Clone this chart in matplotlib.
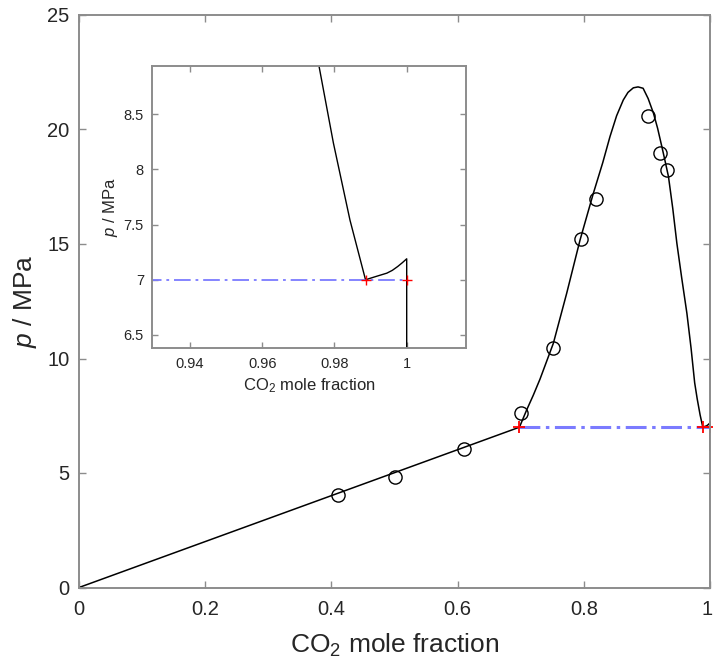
import matplotlib
matplotlib.use("Agg")
import matplotlib.pyplot as plt
import matplotlib.transforms as mtransforms
from matplotlib.ticker import FuncFormatter, FixedLocator

plt.rcParams['font.family'] = ['Liberation Sans', 'DejaVu Sans']
plt.rcParams['mathtext.fontset'] = 'custom'
plt.rcParams['mathtext.rm'] = 'Liberation Sans'
plt.rcParams['mathtext.it'] = 'Liberation Sans:italic'
plt.rcParams['lines.scale_dashes'] = False

# ---- data ----
line_x = [0.0, 0.698]
line_p = [0.0, 7.0]

env_x = [0.698, 0.7094, 0.720, 0.7306, 0.7517, 0.7729, 0.794, 0.8151, 0.830,
         0.8415, 0.852, 0.8626, 0.870, 0.8785, 0.886, 0.894, 0.902, 0.9104,
         0.917, 0.9237, 0.929, 0.9342, 0.941, 0.9475, 0.955, 0.9634, 0.970,
         0.9757, 0.9797, 0.9843, 0.9886]
env_p = [7.0, 7.75, 8.40, 9.10, 10.66, 12.85, 15.17, 17.21, 18.55,
         19.69, 20.60, 21.29, 21.62, 21.82, 21.86, 21.80, 21.35, 20.71,
         20.05, 19.25, 18.60, 17.94, 16.55, 15.03, 13.55, 11.97, 10.45,
         8.94, 8.24, 7.54, 7.0]

vap_x = [0.9886, 0.9915, 0.9930, 0.9945, 0.9960, 0.9975, 0.9988, 1.0, 1.0]
vap_p = [7.0, 7.03, 7.045, 7.06, 7.085, 7.12, 7.155, 7.19, 6.0]

exp_x = [0.411, 0.501, 0.610, 0.701, 0.751, 0.795, 0.819, 0.902, 0.921, 0.932]
exp_p = [4.04, 4.84, 6.03, 7.61, 10.45, 15.21, 16.95, 20.59, 18.96, 18.23]

tp_x = [0.698, 1.0]
tp_p = [7.0, 7.0]

cross_x = [0.698, 0.9886, 1.0]
cross_p = [7.0, 7.0, 7.0]

main_xticks = [0, 0.2, 0.4, 0.6, 0.8, 1.0]
main_yticks = [0, 5, 10, 15, 20, 25]
ins_xticks = [0.94, 0.96, 0.98, 1.0]
ins_yticks = [6.5, 7.0, 7.5, 8.0, 8.5]

# ---- style ----
spine_col = '#8c8c8c'
text_col = '#262626'
blue = '#7b7bff'
fmt = FuncFormatter(lambda v, pos: '%g' % round(v, 6))


def style_axes(ax, tsize, tlen):
    for s in ax.spines.values():
        s.set_color(spine_col)
        s.set_linewidth(1.4)
    ax.tick_params(direction='in', which='both', top=True, right=True,
                   length=tlen, width=1.0, color=spine_col,
                   labelsize=tsize, labelcolor=text_col)


fig = plt.figure(figsize=(7.13, 6.70), dpi=100)

# main axes
ax = fig.add_axes([79 / 713, (670 - 587.5) / 670, 631 / 713, 572.5 / 670])
ax.plot(line_x, line_p, color='black', lw=1.1)
ax.plot(env_x, env_p, color='black', lw=1.1)
ax.plot(vap_x, vap_p, color='black', lw=1.1)
ax.plot(tp_x, tp_p, color=blue, lw=2.2, dashes=(15, 4, 2.5, 4))
ax.plot(exp_x, exp_p, 'o', mfc='none', mec='black', ms=9.5, mew=1.0)
ax.plot(cross_x, cross_p, '+', color='red', ms=9, mew=1.3, clip_on=False)
ax.set_xlim(0, 1)
ax.set_ylim(0, 25)
ax.xaxis.set_major_locator(FixedLocator(main_xticks))
ax.yaxis.set_major_locator(FixedLocator(main_yticks))
ax.xaxis.set_major_formatter(fmt)
ax.yaxis.set_major_formatter(fmt)
style_axes(ax, 14.5, 5)
ax.tick_params(axis='x', pad=9)
ax.tick_params(axis='y', pad=7)
ax.set_xlabel(r'CO$_2$ mole fraction', fontsize=19, color=text_col, labelpad=9)
ax.set_ylabel(r'$\mathit{p}$ / MPa', fontsize=19, color=text_col, labelpad=6)

# nudge the last x tick label ("1") slightly left so it stays inside the figure
last_lbl = ax.get_xticklabels()[-1]
last_lbl.set_transform(last_lbl.get_transform() +
                       mtransforms.ScaledTranslation(-3 / 100, 0, fig.dpi_scale_trans))

# inset axes
axi = fig.add_axes([152.3 / 713, (670 - 348.3) / 670, 313.7 / 713, 282.6 / 670])
axi.plot(env_x, env_p, color='black', lw=1.0)
axi.plot(vap_x, vap_p, color='black', lw=1.0)
axi.plot(tp_x, tp_p, color=blue, lw=1.3, dashes=(12, 3.5, 2, 3.5))
axi.plot(cross_x, cross_p, '+', color='red', ms=7, mew=1.0)
axi.set_xlim(0.92956, 1.01642)
axi.set_ylim(6.379, 8.94)
axi.xaxis.set_major_locator(FixedLocator(ins_xticks))
axi.yaxis.set_major_locator(FixedLocator(ins_yticks))
axi.xaxis.set_major_formatter(fmt)
axi.yaxis.set_major_formatter(fmt)
style_axes(axi, 10.5, 4)
axi.tick_params(axis='x', pad=6)
axi.tick_params(axis='y', pad=6)
axi.set_xlabel(r'CO$_2$ mole fraction', fontsize=12, color=text_col, labelpad=4)
axi.set_ylabel(r'$\mathit{p}$ / MPa', fontsize=12, color=text_col, labelpad=3)

fig.savefig('out.png', dpi=100)
